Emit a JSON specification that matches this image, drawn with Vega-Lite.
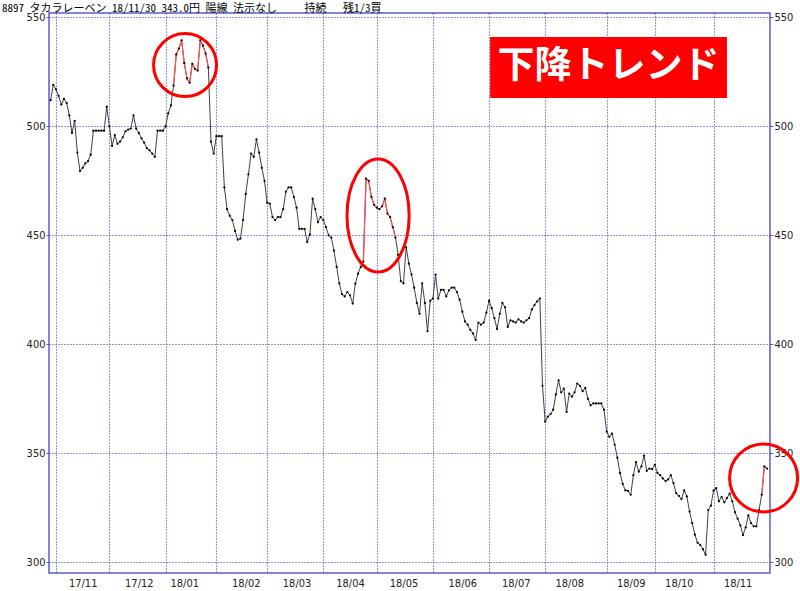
{
"$schema": "https://vega.github.io/schema/vega-lite/v6.json",
"width": 721,
"height": 560,
"autosize": {"type": "none"},
"padding": {"left": 49, "top": 13, "right": 30, "bottom": 18},
"background": "white",
"title": {"text": "8897 タカラレーベン 18/11/30 343.0円 陽線 法示なし　　 持続　 残1/3買", "anchor": "start", "frame": "group", "dx": -47, "dy": 15, "offset": 1, "baseline": "bottom", "font": "Noto Sans Mono CJK JP, Noto Sans CJK JP", "fontSize": 11, "fontWeight": "normal", "color": "#000000"},
"config": {"view": {"stroke": "#5c5cc8", "strokeWidth": 1.5}},
"datasets": {
"price": [
{"i":-2,"v":512},{"i":-1,"v":519},{"i":0,"v":517},{"i":1,"v":514},{"i":2,"v":510},{"i":3,"v":512.6},{"i":4,"v":510.7},{"i":5,"v":505},{"i":6,"v":497},{"i":7,"v":502.5},
{"i":8,"v":488},{"i":9,"v":479.5},{"i":10,"v":481},{"i":11,"v":483},{"i":12,"v":484},{"i":13,"v":487},{"i":14,"v":498},{"i":15,"v":498},{"i":16,"v":498},{"i":17,"v":498},
{"i":18,"v":498},{"i":19,"v":509},{"i":20,"v":500},{"i":21,"v":491},{"i":22,"v":496},{"i":23,"v":492},{"i":24,"v":493},{"i":25,"v":495},{"i":26,"v":497.7},{"i":27,"v":498.5},
{"i":28,"v":499},{"i":29,"v":505},{"i":30,"v":499},{"i":31,"v":497},{"i":32,"v":494.5},{"i":33,"v":492.5},{"i":34,"v":490},{"i":35,"v":489},{"i":36,"v":487.5},{"i":37,"v":486},
{"i":38,"v":498},{"i":39,"v":498},{"i":40,"v":498},{"i":41,"v":500},{"i":42,"v":506},{"i":43,"v":509.6},{"i":44,"v":518.7,"g":1},{"i":45,"v":533,"g":1},{"i":46,"v":535.7,"g":1},{"i":47,"v":539.5,"g":1},
{"i":48,"v":529,"g":1},{"i":49,"v":522,"g":1},{"i":50,"v":520,"g":1},{"i":51,"v":528.7,"g":1},{"i":52,"v":526.4,"g":1},{"i":53,"v":525.6,"g":1},{"i":54,"v":539.5,"g":1},{"i":55,"v":537,"g":1},{"i":56,"v":533.4,"g":1},{"i":57,"v":527,"g":1},
{"i":58,"v":493},{"i":59,"v":487.5},{"i":60,"v":495.5},{"i":61,"v":495.5},{"i":62,"v":495.5},{"i":63,"v":472},{"i":64,"v":462},{"i":65,"v":459},{"i":66,"v":457},{"i":67,"v":452},
{"i":68,"v":448},{"i":69,"v":448.5},{"i":70,"v":457},{"i":71,"v":469},{"i":72,"v":478},{"i":73,"v":487.5},{"i":74,"v":486},{"i":75,"v":494},{"i":76,"v":488},{"i":77,"v":481},
{"i":78,"v":475},{"i":79,"v":465},{"i":80,"v":464.5},{"i":81,"v":458.4},{"i":82,"v":457},{"i":83,"v":458.4},{"i":84,"v":458.4},{"i":85,"v":462},{"i":86,"v":470},{"i":87,"v":472},
{"i":88,"v":472},{"i":89,"v":467.6},{"i":90,"v":462.7},{"i":91,"v":453},{"i":92,"v":453},{"i":93,"v":453},{"i":94,"v":447},{"i":95,"v":450.5},{"i":96,"v":466.8},{"i":97,"v":462},
{"i":98,"v":456},{"i":99,"v":458.4},{"i":100,"v":457},{"i":101,"v":453.8},{"i":102,"v":450},{"i":103,"v":449},{"i":104,"v":443},{"i":105,"v":435.5},{"i":106,"v":428},{"i":107,"v":423},
{"i":108,"v":422},{"i":109,"v":424},{"i":110,"v":422.5},{"i":111,"v":418.7},{"i":112,"v":427.8},{"i":113,"v":432.4},{"i":114,"v":435.5},{"i":115,"v":438,"g":2},{"i":116,"v":476,"g":2},{"i":117,"v":475,"g":2},
{"i":118,"v":467.6,"g":2},{"i":119,"v":464,"g":2},{"i":120,"v":462.7,"g":2},{"i":121,"v":462,"g":2},{"i":122,"v":463.3,"g":2},{"i":123,"v":466.8,"g":2},{"i":124,"v":460,"g":2},{"i":125,"v":458.4,"g":2},{"i":126,"v":453.8,"g":2},{"i":127,"v":449,"g":2},
{"i":128,"v":441},{"i":129,"v":429},{"i":130,"v":428},{"i":131,"v":444.6},{"i":132,"v":437},{"i":133,"v":432},{"i":134,"v":426},{"i":135,"v":419},{"i":136,"v":414},{"i":137,"v":428},
{"i":138,"v":419},{"i":139,"v":406},{"i":140,"v":420},{"i":141,"v":421},{"i":142,"v":432},{"i":143,"v":421},{"i":144,"v":425},{"i":145,"v":425},{"i":146,"v":422},{"i":147,"v":424.8},
{"i":148,"v":426},{"i":149,"v":426},{"i":150,"v":424},{"i":151,"v":420.5},{"i":152,"v":415},{"i":153,"v":410.5},{"i":154,"v":409},{"i":155,"v":406.6},{"i":156,"v":405},{"i":157,"v":402},
{"i":158,"v":410},{"i":159,"v":409},{"i":160,"v":410},{"i":161,"v":414.5},{"i":162,"v":420},{"i":163,"v":416.6},{"i":164,"v":412},{"i":165,"v":407},{"i":166,"v":414},{"i":167,"v":419},
{"i":168,"v":417},{"i":169,"v":408},{"i":170,"v":411},{"i":171,"v":410.5},{"i":172,"v":410},{"i":173,"v":411.5},{"i":174,"v":410.5},{"i":175,"v":410},{"i":176,"v":411},{"i":177,"v":412},
{"i":178,"v":416},{"i":179,"v":418},{"i":180,"v":419.7},{"i":181,"v":421},{"i":182,"v":381},{"i":183,"v":364.5},{"i":184,"v":366.8},{"i":185,"v":368},{"i":186,"v":370},{"i":187,"v":377},
{"i":188,"v":383.5},{"i":189,"v":378},{"i":190,"v":379.7},{"i":191,"v":369},{"i":192,"v":377.4},{"i":193,"v":376},{"i":194,"v":378},{"i":195,"v":382},{"i":196,"v":381},{"i":197,"v":378.5},
{"i":198,"v":380},{"i":199,"v":375},{"i":200,"v":372},{"i":201,"v":372.9},{"i":202,"v":372.9},{"i":203,"v":372.9},{"i":204,"v":372.9},{"i":205,"v":370},{"i":206,"v":360},{"i":207,"v":357.6},
{"i":208,"v":359},{"i":209,"v":354},{"i":210,"v":348},{"i":211,"v":341},{"i":212,"v":336},{"i":213,"v":333},{"i":214,"v":332.8},{"i":215,"v":331},{"i":216,"v":340},{"i":217,"v":346},
{"i":218,"v":341.6},{"i":219,"v":344},{"i":220,"v":349},{"i":221,"v":342},{"i":222,"v":343},{"i":223,"v":342.7},{"i":224,"v":344.7},{"i":225,"v":341},{"i":226,"v":340},{"i":227,"v":338.5},
{"i":228,"v":337.3},{"i":229,"v":338},{"i":230,"v":340},{"i":231,"v":336.3},{"i":232,"v":331.7},{"i":233,"v":330.5},{"i":234,"v":329},{"i":235,"v":333},{"i":236,"v":330.2},{"i":237,"v":323.3},
{"i":238,"v":318},{"i":239,"v":312.7},{"i":240,"v":309},{"i":241,"v":308},{"i":242,"v":306},{"i":243,"v":303.5},{"i":244,"v":324},{"i":245,"v":326},{"i":246,"v":333},{"i":247,"v":334},
{"i":248,"v":328},{"i":249,"v":330},{"i":250,"v":327.5},{"i":251,"v":329.5},{"i":252,"v":331.5},{"i":253,"v":328},{"i":254,"v":323},{"i":255,"v":320},{"i":256,"v":317},{"i":257,"v":312.5},
{"i":258,"v":316},{"i":259,"v":321.5},{"i":260,"v":318},{"i":261,"v":316.5},{"i":262,"v":316.5},{"i":263,"v":324},{"i":264,"v":331,"g":3},{"i":265,"v":344,"g":3},{"i":266,"v":343}
]
},
"layer": [
{
"data": {"name": "price"},
"mark": {"type": "line", "color": "#404040", "strokeWidth": 1},
"encoding": {
"x": {"field": "i", "type": "quantitative", "scale": {"domain": [-2.6, 267.1], "nice": false, "zero": false},
"axis": {"orient": "bottom", "values": [0,20,41,60,79,100,120,141,162,183,206,224,246], "grid": true, "gridColor": "#2a2ab0", "gridDash": [1,2], "gridWidth": 1.1, "ticks": false, "domain": false, "labels": false, "title": null}},
"y": {"field": "v", "type": "quantitative", "scale": {"domain": [295.1, 552], "nice": false, "zero": false},
"axis": {"orient": "left", "values": [300,350,400,450,500,550], "grid": true, "gridColor": "#2a2ab0", "gridDash": [1,2], "gridWidth": 1.1, "ticks": true, "tickSize": 3, "tickColor": "#5c5cc8", "domain": false, "title": null, "labelPadding": 1, "labelFont": "DejaVu Sans Condensed", "labelFontSize": 11, "labelColor": "#222222"}}
}
},
{
"data": {"name": "price"},
"transform": [{"filter": "isValid(datum.g)"}],
"mark": {"type": "line", "color": "#ff5050", "strokeWidth": 1.2},
"encoding": {
"x": {"field": "i", "type": "quantitative", "scale": {"domain": [-2.6, 267.1], "nice": false, "zero": false},
"axis": {"orient": "bottom", "values": [10,31,48,71,90,110,130,152,172,192,215,233,255], "grid": false, "ticks": false, "domain": false, "title": null,
"labelExpr": "['17/11','17/12','18/01','18/02','18/03','18/04','18/05','18/06','18/07','18/08','18/09','18/10','18/11'][indexof([10,31,48,71,90,110,130,152,172,192,215,233,255], datum.value)]",
"labelPadding": 4, "labelFont": "DejaVu Sans Condensed", "labelFontSize": 11, "labelColor": "#222222", "labelFlush": false, "labelOverlap": false}},
"y": {"field": "v", "type": "quantitative", "scale": {"domain": [295.1, 552], "nice": false, "zero": false},
"axis": {"orient": "right", "values": [300,350,400,450,500,550], "grid": false, "ticks": true, "tickSize": 3, "tickColor": "#5c5cc8", "domain": false, "title": null, "labelPadding": 1, "labelFont": "DejaVu Sans Condensed", "labelFontSize": 11, "labelColor": "#222222"}},
"detail": {"field": "g", "type": "nominal"}
}
},
{
"data": {"name": "price"},
"mark": {"type": "point", "filled": true, "size": 5, "color": "#000000", "opacity": 1},
"encoding": {
"x": {"field": "i", "type": "quantitative", "scale": {"domain": [-2.6, 267.1], "nice": false, "zero": false}, "axis": null},
"y": {"field": "v", "type": "quantitative", "scale": {"domain": [295.1, 552], "nice": false, "zero": false}, "axis": null}
}
},
{
"data": {"values": [{"i": 48.3, "v": 528.1}]},
"mark": {"type": "point", "shape": "circle", "size": 3969, "filled": false, "color": "#ff0000", "strokeWidth": 3, "opacity": 1},
"encoding": {
"x": {"field": "i", "type": "quantitative", "scale": {"domain": [-2.6, 267.1], "nice": false, "zero": false}, "axis": null},
"y": {"field": "v", "type": "quantitative", "scale": {"domain": [295.1, 552], "nice": false, "zero": false}, "axis": null}
}
},
{
"data": {"values": [{"i": 264.7, "v": 338.7}]},
"mark": {"type": "point", "shape": "circle", "size": 4624, "filled": false, "color": "#ff0000", "strokeWidth": 3, "opacity": 1},
"encoding": {
"x": {"field": "i", "type": "quantitative", "scale": {"domain": [-2.6, 267.1], "nice": false, "zero": false}, "axis": null},
"y": {"field": "v", "type": "quantitative", "scale": {"domain": [295.1, 552], "nice": false, "zero": false}, "axis": null}
}
},
{
"data": {"values": [{"i": 120.5, "v": 459.1}]},
"mark": {"type": "point", "shape": "M -0.55 0 A 0.55 1 0 1 1 0.55 0 A 0.55 1 0 1 1 -0.55 0 Z", "size": 12769, "filled": false, "color": "#ff0000", "strokeWidth": 3, "opacity": 1},
"encoding": {
"x": {"field": "i", "type": "quantitative", "scale": {"domain": [-2.6, 267.1], "nice": false, "zero": false}, "axis": null},
"y": {"field": "v", "type": "quantitative", "scale": {"domain": [295.1, 552], "nice": false, "zero": false}, "axis": null}
}
},
{
"data": {"values": [{"a": 162.4, "b": 251, "lo": 513, "hi": 541}]},
"mark": {"type": "rect", "color": "#ff0000", "opacity": 1},
"encoding": {
"x": {"field": "a", "type": "quantitative", "scale": {"domain": [-2.6, 267.1], "nice": false, "zero": false}, "axis": null},
"x2": {"field": "b"},
"y": {"field": "lo", "type": "quantitative", "scale": {"domain": [295.1, 552], "nice": false, "zero": false}, "axis": null},
"y2": {"field": "hi"}
}
},
{
"data": {"values": [{"i": 206.7, "v": 527, "t": "下降トレンド"}]},
"mark": {"type": "text", "color": "#ffffff", "font": "Noto Sans CJK JP", "fontWeight": "bold", "fontSize": 37, "align": "center", "baseline": "middle"},
"encoding": {
"x": {"field": "i", "type": "quantitative", "scale": {"domain": [-2.6, 267.1], "nice": false, "zero": false}, "axis": null},
"y": {"field": "v", "type": "quantitative", "scale": {"domain": [295.1, 552], "nice": false, "zero": false}, "axis": null},
"text": {"field": "t"}
}
}
],
"resolve": {"axis": {"x": "independent", "y": "independent"}}
}
